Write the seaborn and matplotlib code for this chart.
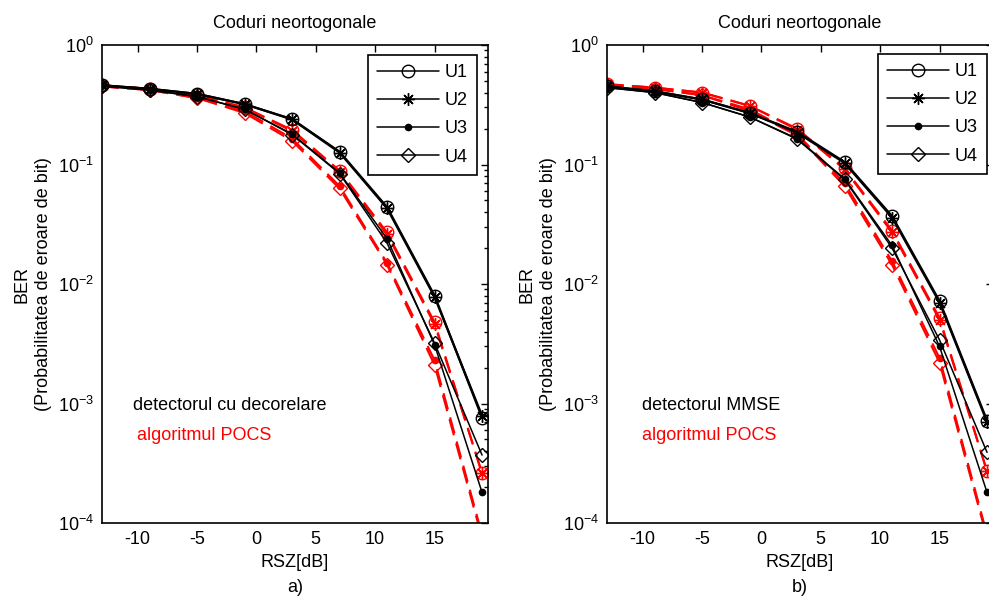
import numpy as np
import pandas as pd
import matplotlib
matplotlib.use("Agg")
import matplotlib.pyplot as plt
from matplotlib.lines import Line2D
from matplotlib.ticker import LogLocator, FixedLocator, NullFormatter
import seaborn as sns

# SNR axis (dB)
rsz = [-13, -9, -5, -1, 3, 7, 11, 15, 19]
users = ["U1", "U2", "U3", "U4"]

# (a) decorrelating detector vs. POCS
decor_u1 = [0.46, 0.43, 0.39, 0.32, 0.240, 0.128, 0.044, 0.0080, 7.6e-4]
decor_u2 = [0.46, 0.43, 0.39, 0.32, 0.238, 0.126, 0.043, 0.0078, 7.9e-4]
decor_u3 = [0.46, 0.42, 0.37, 0.29, 0.180, 0.085, 0.024, 0.0031, 1.8e-4]
decor_u4 = [0.45, 0.42, 0.37, 0.29, 0.178, 0.084, 0.022, 0.0032, 3.7e-4]
pocs_a_u1 = [0.46, 0.43, 0.38, 0.30, 0.195, 0.089, 0.027, 0.0048, 2.6e-4]
pocs_a_u2 = [0.46, 0.43, 0.38, 0.30, 0.190, 0.087, 0.026, 0.0046, 2.6e-4]
pocs_a_u3 = [0.45, 0.42, 0.36, 0.28, 0.165, 0.066, 0.015, 0.0023, 8.0e-5]
pocs_a_u4 = [0.45, 0.42, 0.36, 0.27, 0.158, 0.063, 0.0145, 0.0021, 7.5e-5]

# (b) MMSE detector vs. POCS
mmse_u1 = [0.45, 0.41, 0.35, 0.27, 0.188, 0.105, 0.037, 0.0072, 7.2e-4]
mmse_u2 = [0.45, 0.41, 0.35, 0.27, 0.185, 0.103, 0.036, 0.0070, 7.0e-4]
mmse_u3 = [0.44, 0.40, 0.33, 0.25, 0.165, 0.076, 0.021, 0.0030, 1.8e-4]
mmse_u4 = [0.44, 0.40, 0.33, 0.25, 0.163, 0.075, 0.020, 0.0034, 3.9e-4]
pocs_b_u1 = [0.47, 0.44, 0.40, 0.31, 0.200, 0.093, 0.028, 0.0052, 2.7e-4]
pocs_b_u2 = [0.47, 0.44, 0.40, 0.31, 0.196, 0.091, 0.027, 0.0050, 2.7e-4]
pocs_b_u3 = [0.46, 0.43, 0.38, 0.29, 0.180, 0.070, 0.0155, 0.0024, 8.0e-5]
pocs_b_u4 = [0.46, 0.43, 0.38, 0.28, 0.175, 0.066, 0.0145, 0.0022, 7.5e-5]

titles = ["Coduri neortogonale", "Coduri neortogonale"]
det_names = ["detectorul cu decorelare", "detectorul MMSE"]
pocs_name = "algoritmul POCS"
panel_tags = ["a)", "b)"]

sns.set_theme(style="white")
plt.rcParams["font.family"] = ["Liberation Sans", "DejaVu Sans"]
plt.rcParams["mathtext.fontset"] = "custom"
plt.rcParams["mathtext.rm"] = "Liberation Sans"
plt.rcParams["axes.unicode_minus"] = False
for key in ("text.color", "axes.labelcolor", "xtick.color", "ytick.color",
            "axes.edgecolor"):
    plt.rcParams[key] = "black"
plt.rcParams["axes.linewidth"] = 1.2

FS = 13
markers = {
    "U1": dict(marker="o", ms=9, mfc="none"),
    "U2": dict(marker=(8, 2, 0), ms=9),
    "U3": dict(marker="o", ms=4.5),
    "U4": dict(marker="D", ms=7, mfc="none"),
}

fig = plt.figure(figsize=(9.89, 5.97), dpi=100)
W, H = 989, 597
ax_w, ax_h = 386, 478
axes = [fig.add_axes([102 / W, 1 - 523 / H, ax_w / W, ax_h / H]),
        fig.add_axes([607 / W, 1 - 523 / H, ax_w / W, ax_h / H])]

panels = [
    ([decor_u1, decor_u2, decor_u3, decor_u4], [pocs_a_u1, pocs_a_u2, pocs_a_u3, pocs_a_u4]),
    ([mmse_u1, mmse_u2, mmse_u3, mmse_u4], [pocs_b_u1, pocs_b_u2, pocs_b_u3, pocs_b_u4]),
]
legend_anchor = [(0.9715, 0.979), (0.9845, 0.981)]

for k, (ax, (det, pocs)) in enumerate(zip(axes, panels)):
    ax.set_yscale("log")
    for u, vals in zip(users, pocs):
        df = pd.DataFrame({"RSZ": rsz, "BER": vals})
        sns.lineplot(data=df, x="RSZ", y="BER", ax=ax, color="red", lw=1.5,
                     linestyle=(0, (8, 4)), mec="red", mew=1.0,
                     errorbar=None, **markers[u])
    for u, vals in zip(users, det):
        df = pd.DataFrame({"RSZ": rsz, "BER": vals})
        lw = 1.6 if u in ("U1", "U2") else 1.1
        sns.lineplot(data=df, x="RSZ", y="BER", ax=ax, color="black", lw=lw,
                     mec="black", mew=1.0, errorbar=None, **markers[u])

    ax.set_xlim(-13, 19.5)
    ax.set_ylim(1e-4, 1)
    ax.xaxis.set_major_locator(FixedLocator([-10, -5, 0, 5, 10, 15]))
    ax.yaxis.set_major_locator(LogLocator(base=10, numticks=10))
    ax.yaxis.set_minor_locator(LogLocator(base=10, subs=np.arange(2, 10), numticks=20))
    ax.yaxis.set_minor_formatter(NullFormatter())
    ax.tick_params(which="both", direction="in", top=True, right=True,
                   labelsize=FS, color="black", labelcolor="black", width=1.0)
    ax.tick_params(which="major", length=5, pad=6)
    ax.tick_params(which="minor", length=3)
    for s in ax.spines.values():
        s.set_visible(True)
        s.set_color("black")

    ax.set_title(titles[k], fontsize=FS, pad=12, color="black")
    ax.set_xlabel("RSZ[dB]", fontsize=FS, color="black")
    ax.xaxis.set_label_coords(0.5, -0.064)
    ax.xaxis.label.set_va("top")
    ax.text(0.5, -0.134, panel_tags[k], transform=ax.transAxes,
            ha="center", va="center", fontsize=FS, color="black")
    ax.set_ylabel("BER\n(Probabilitatea de eroare de bit)", fontsize=FS,
                  linespacing=1.3, color="black")
    ax.yaxis.set_label_coords(-0.13, 0.5)

    ax.text(0.08 if k == 0 else 0.09, 0.245, det_names[k], transform=ax.transAxes,
            color="black", fontsize=FS, va="center")
    ax.text(0.09, 0.183, pocs_name, transform=ax.transAxes,
            color="red", fontsize=FS, va="center")

    handles = [Line2D([], [], color="black", lw=1.1, mec="black", mew=1.0, **markers[u])
               for u in users]
    leg = ax.legend(handles, users, loc="upper right", bbox_to_anchor=legend_anchor[k],
                    borderaxespad=0, fontsize=FS, frameon=True, fancybox=False,
                    edgecolor="black", framealpha=1, handlelength=3.4,
                    handletextpad=0.35, labelspacing=0.62, borderpad=0.5,
                    numpoints=1)
    leg.get_frame().set_linewidth(1.2)
    for t in leg.get_texts():
        t.set_color("black")

fig.savefig("out.png", dpi=100)
